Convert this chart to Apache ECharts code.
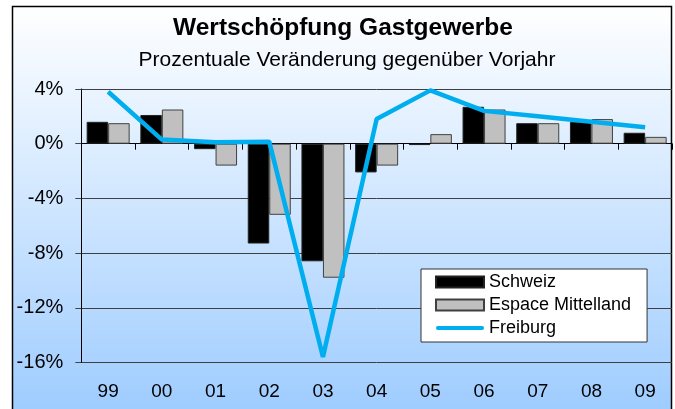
<!DOCTYPE html>
<html>
<head>
<meta charset="utf-8">
<script src="https://cdn.jsdelivr.net/npm/echarts@6/dist/echarts.min.js"></script>
<style>
	html, body { margin: 0; padding: 0; background: #fff; }
	#chart { width: 675px; height: 409px; }
</style>
</head>
<body>
<div id="chart"></div>
<script>
// Jahre (Kategorien)
var years = ['99', '00', '01', '02', '03', '04', '05', '06', '07', '08', '09'];
// Veränderung in % gegenüber Vorjahr
var schweiz = [1.6, 2.1, -0.4, -7.3, -8.6, -2.1, -0.1, 2.7, 1.5, 1.6, 0.8];
var espaceMittelland = [1.5, 2.5, -1.6, -5.2, -9.8, -1.6, 0.7, 2.5, 1.5, 1.8, 0.5];
var freiburg = [3.8, 0.3, 0.1, 0.15, -15.6, 1.8, 3.9, 2.4, 2.0, 1.6, 1.2];
var yTicks = { min: -16, max: 4, step: 4 };

var font = "'Liberation Sans', Arial, sans-serif";
// dünner Balken als Legendensymbol für die Linie
var lineIcon = 'path://M0,0 M48,11 M2,3.5 L46,3.5 A2,2 0 0 1 46,7.5 L2,7.5 A2,2 0 0 1 2,3.5 Z';

var chart = echarts.init(document.getElementById('chart'));

chart.setOption({
	animation: false,
	textStyle: { fontFamily: font },
	graphic: [{
		type: 'rect',
		z: -10,
		shape: { x: 12.5, y: 6.5, width: 659, height: 430 },
		style: {
			fill: new echarts.graphic.LinearGradient(0, 0, 0, 1, [
				{ offset: 0, color: '#ffffff' },
				{ offset: 1, color: '#98c9ff' },
			]),
			stroke: '#000',
			lineWidth: 1.5,
		},
	}],
	title: [{
		text: 'Wertschöpfung Gastgewerbe',
		left: 343,
		top: 16,
		textAlign: 'center',
		padding: 0,
		textStyle: { fontFamily: font, fontSize: 24.5, fontWeight: 'bold', color: '#000' },
	}, {
		text: 'Prozentuale Veränderung gegenüber Vorjahr',
		left: 347,
		top: 50,
		textAlign: 'center',
		padding: 0,
		textStyle: { fontFamily: font, fontSize: 21, fontWeight: 'normal', color: '#000' },
	}],
	legend: {
		orient: 'vertical',
		left: 421,
		top: 269,
		padding: [4, 16, 5, 14],
		itemWidth: 48,
		itemHeight: 11,
		itemGap: 5,
		backgroundColor: '#fff',
		borderColor: '#333',
		borderWidth: 1,
		textStyle: { fontFamily: font, fontSize: 18, color: '#000' },
		data: [
			{ name: 'Schweiz', icon: 'rect' },
			{ name: 'Espace Mittelland', icon: 'rect' },
			{ name: 'Freiburg', icon: lineIcon, itemStyle: { color: '#00aeef', borderWidth: 0 } },
		],
	},
	grid: { left: 81.3, right: 3, top: 89, bottom: 46.5, containLabel: false },
	xAxis: [{
		type: 'category',
		data: years,
		position: 'bottom',
		axisLine: { show: false, onZero: false },
		axisTick: { show: false },
		axisLabel: { margin: 20, fontSize: 19, color: '#000', fontFamily: font },
	}, {
		type: 'category',
		data: years,
		position: 'bottom',
		axisLine: { show: true, onZero: true, lineStyle: { color: '#000', width: 1 } },
		axisTick: { show: true, length: 6, lineStyle: { color: '#000' } },
		axisLabel: { show: false },
	}],
	yAxis: {
		type: 'value',
		min: yTicks.min,
		max: yTicks.max,
		interval: yTicks.step,
		axisLine: { show: true, lineStyle: { color: '#000', width: 1 } },
		axisTick: { show: true, length: 6, lineStyle: { color: '#444' } },
		axisLabel: {
			margin: 18,
			fontSize: 20,
			color: '#000',
			fontFamily: font,
			formatter: '{value}%',
		},
		splitLine: { show: true, lineStyle: { color: '#3f3f3f', width: 1 } },
	},
	series: [{
		name: 'Schweiz',
		type: 'bar',
		data: schweiz,
		barWidth: 21.5,
		barGap: '0%',
		itemStyle: { color: '#000', borderColor: '#222', borderWidth: 1 },
	}, {
		name: 'Espace Mittelland',
		type: 'bar',
		data: espaceMittelland,
		barWidth: 21.5,
		barGap: '0%',
		itemStyle: { color: '#c0c0c0', borderColor: '#404040', borderWidth: 1 },
	}, {
		name: 'Freiburg',
		type: 'line',
		data: freiburg,
		symbol: 'none',
		z: 5,
		lineStyle: { color: '#00aeef', width: 4.5 },
		itemStyle: { color: '#00aeef' },
	}],
});
</script>
</body>
</html>
